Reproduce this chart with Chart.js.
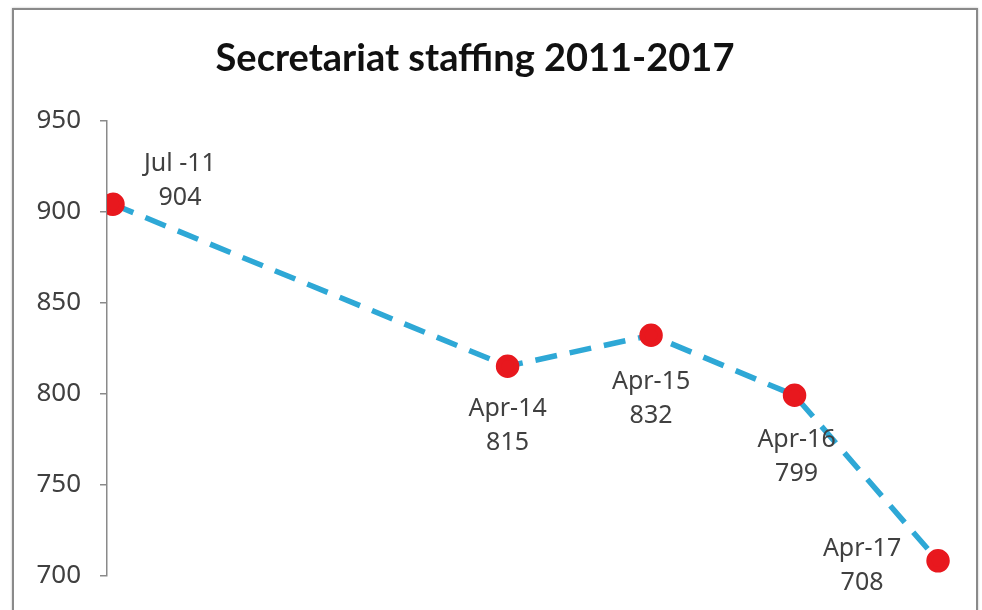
<!DOCTYPE html>
<html>
<head>
<meta charset="utf-8">
<script src="https://cdn.jsdelivr.net/npm/chart.js@4/dist/chart.umd.min.js"></script>
<style>
  html, body { margin: 0; padding: 0; background: #fff; }
  #wrap { position: relative; width: 982px; height: 610px; overflow: hidden; }
  #frame {
    position: absolute; left: 12px; top: 8px; width: 962px; height: 640px;
    border: 2px solid #8a8a8a; box-shadow: 0 0 2px #bbb;
  }
  canvas { position: absolute; left: 0; top: 0; }
</style>
</head>
<body>
<div id="wrap">
  <div id="frame"></div>
  <canvas id="line-chart" width="982" height="610"></canvas>
</div>
<script>
// data
const labels = ["Jul -11", "Apr-14", "Apr-15", "Apr-16", "Apr-17"];
const dates = ["2011-07", "2014-04", "2015-04", "2016-04", "2017-04"];
const staff = [904, 815, 832, 799, 708];
const yTicks = [700, 750, 800, 850, 900, 950];

// months since the first date, so the x axis keeps real time spacing
const toMonths = (d) => {
  const [y, m] = d.split("-").map(Number);
  return y * 12 + m;
};
const start = toMonths(dates[0]);
const points = dates.map((d, i) => ({ x: toMonths(d) - start, y: staff[i] }));

// where each two-line label sits relative to its point
const labelOffsets = [[67, -23], [0, 60], [0, 64], [2, 62], [-76, 5]];

const pointLabels = {
  id: "pointLabels",
  afterDatasetsDraw(chart) {
    const ctx = chart.ctx;
    const meta = chart.getDatasetMeta(0);
    ctx.save();
    ctx.font = "25px 'Noto Sans'";
    ctx.fillStyle = "#404040";
    ctx.textAlign = "center";
    ctx.textBaseline = "middle";
    meta.data.forEach((pt, i) => {
      const [dx, dy] = labelOffsets[i];
      ctx.fillText(labels[i], pt.x + dx, pt.y + dy - 17);
      ctx.fillText(String(staff[i]), pt.x + dx, pt.y + dy + 17);
    });
    ctx.restore();
  }
};

new Chart(document.getElementById("line-chart"), {
  type: "line",
  data: {
    datasets: [
      {
        label: "Staff",
        data: points,
        borderColor: "#2ea8d6",
        borderWidth: 5.5,
        borderDash: [22, 13],
        pointBackgroundColor: "#e8181e",
        pointBorderColor: "#e8181e",
        pointRadius: 9,
        tension: 0,
      },
    ],
  },
  options: {
    responsive: false,
    animation: false,
    layout: { padding: { left: 0, right: 32, bottom: 28, top: 0 } },
    plugins: {
      legend: { display: false },
      tooltip: { enabled: false },
      title: {
        display: true,
        text: "Secretariat staffing 2011-2017",
        color: "#111",
        font: { family: "Lato", size: 38, weight: "bold" },
        padding: { top: 36, bottom: 39 },
      },
    },
    scales: {
      x: { type: "linear", display: false, min: -0.5, max: 70 },
      y: {
        min: 700,
        max: 950,
        afterBuildTicks: (s) => { s.ticks = yTicks.map((v) => ({ value: v })); },
        afterFit: (s) => { s.width = 107; },
        ticks: {
          padding: 19,
          color: "#404040",
          font: { family: "Noto Sans", size: 26 },
        },
        grid: { drawOnChartArea: false, tickLength: 7, color: "#8a8a8a", lineWidth: 1.5 },
        border: { display: true, color: "#8a8a8a", width: 1.5 },
      },
    },
  },
  plugins: [pointLabels],
});
</script>
</body>
</html>
